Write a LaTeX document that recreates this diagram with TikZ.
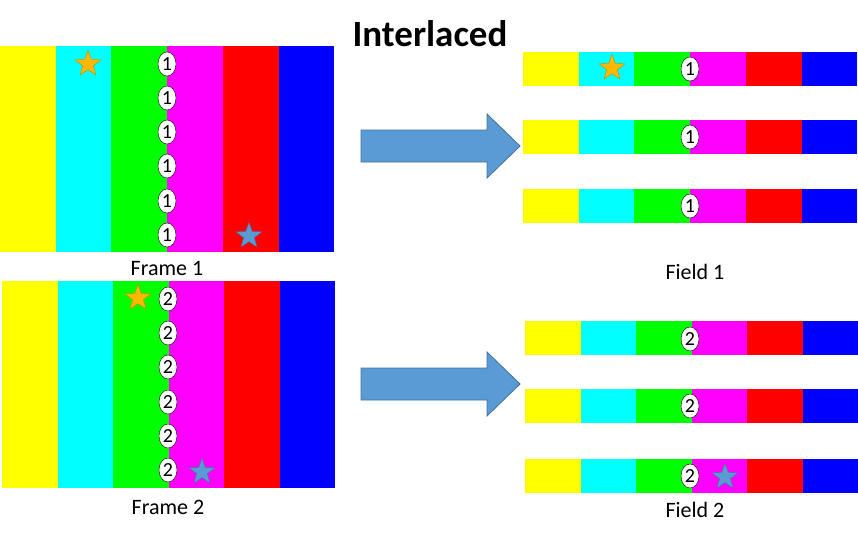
\documentclass[tikz,border=0pt]{standalone}
\usepackage{fontspec}
\setmainfont{Carlito}
\usetikzlibrary{shapes.geometric}
\definecolor{barY}{RGB}{255,255,0}
\definecolor{barC}{RGB}{0,255,255}
\definecolor{barG}{RGB}{0,255,0}
\definecolor{barM}{RGB}{255,0,255}
\definecolor{barR}{RGB}{255,0,0}
\definecolor{barB}{RGB}{0,0,255}
\definecolor{blockblue}{HTML}{5B9BD5}
\definecolor{blockedge}{HTML}{41719C}
\definecolor{starorange}{HTML}{FFB800}
\definecolor{staredge}{HTML}{C48A00}
\tikzset{
  num/.style={ellipse, draw, fill=white, inner sep=0pt, minimum width=18pt,
    minimum height=24pt, font=\fontsize{20}{20}\selectfont},
  ostar/.style={star, star points=5, star point ratio=2.4, fill=starorange,
    draw=staredge, minimum size=27pt, inner sep=0pt},
  bstar/.style={ostar, fill=blockblue, draw=blockedge},
  caption/.style={font=\fontsize{22}{22}\selectfont}
}
\begin{document}
\begin{tikzpicture}[x=1pt,y=-1pt]
\useasboundingbox (0,0) rectangle (858,538);
\node[font=\fontsize{37}{37}\bfseries] (title) at (430,34) {Interlaced};
% frames
\foreach \c [count=\i from 0] in {barY,barC,barG,barM,barR,barB} {
  \fill[\c] (\i*55.7,46) rectangle ++(55.7,206);
  \fill[\c] (2+\i*55.5,281) rectangle ++(55.5,207);
}
\foreach \y [count=\k] in {64,98,132,166,201,235}
  \node[num] (fa\k) at (167,\y) {1};
\foreach \y [count=\k] in {299,333,367,402,436,470}
  \node[num] (fb\k) at (168,\y) {2};
\node[ostar] (sa1) at (88,64) {};
\node[bstar] (sa2) at (249,236) {};
\node[ostar] (sb1) at (138,298) {};
\node[bstar] (sb2) at (202,472) {};
\node[caption] (frame1) at (167,268) {Frame 1};
\node[caption] (frame2) at (168,507) {Frame 2};
% fields
\foreach \y in {52,120,189}
  \foreach \c [count=\i from 0] in {barY,barC,barG,barM,barR,barB}
    \fill[\c] (523+\i*55.7,\y) rectangle ++(55.7,34);
\foreach \y in {321,389,459}
  \foreach \c [count=\i from 0] in {barY,barC,barG,barM,barR,barB}
    \fill[\c] (525+\i*55.5,\y) rectangle ++(55.5,34);
\foreach \y [count=\k] in {69,137,206}
  \node[num] (ga\k) at (690,\y) {1};
\foreach \y [count=\k] in {339,406,476}
  \node[num] (gb\k) at (690,\y) {2};
\node[ostar] (ta1) at (612,68) {};
\node[bstar] (tb2) at (725,477) {};
\node[caption] (field1) at (695,272) {Field 1};
\node[caption] (field2) at (695,510) {Field 2};
% block arrows
\foreach \y in {146,384}
  \filldraw[fill=blockblue, draw=blockedge, line width=0.8pt]
    (361,\y-16) -- (487,\y-16) -- (487,\y-32) -- (520,\y)
    -- (487,\y+32) -- (487,\y+16) -- (361,\y+16) -- cycle;
\end{tikzpicture}
\end{document}
